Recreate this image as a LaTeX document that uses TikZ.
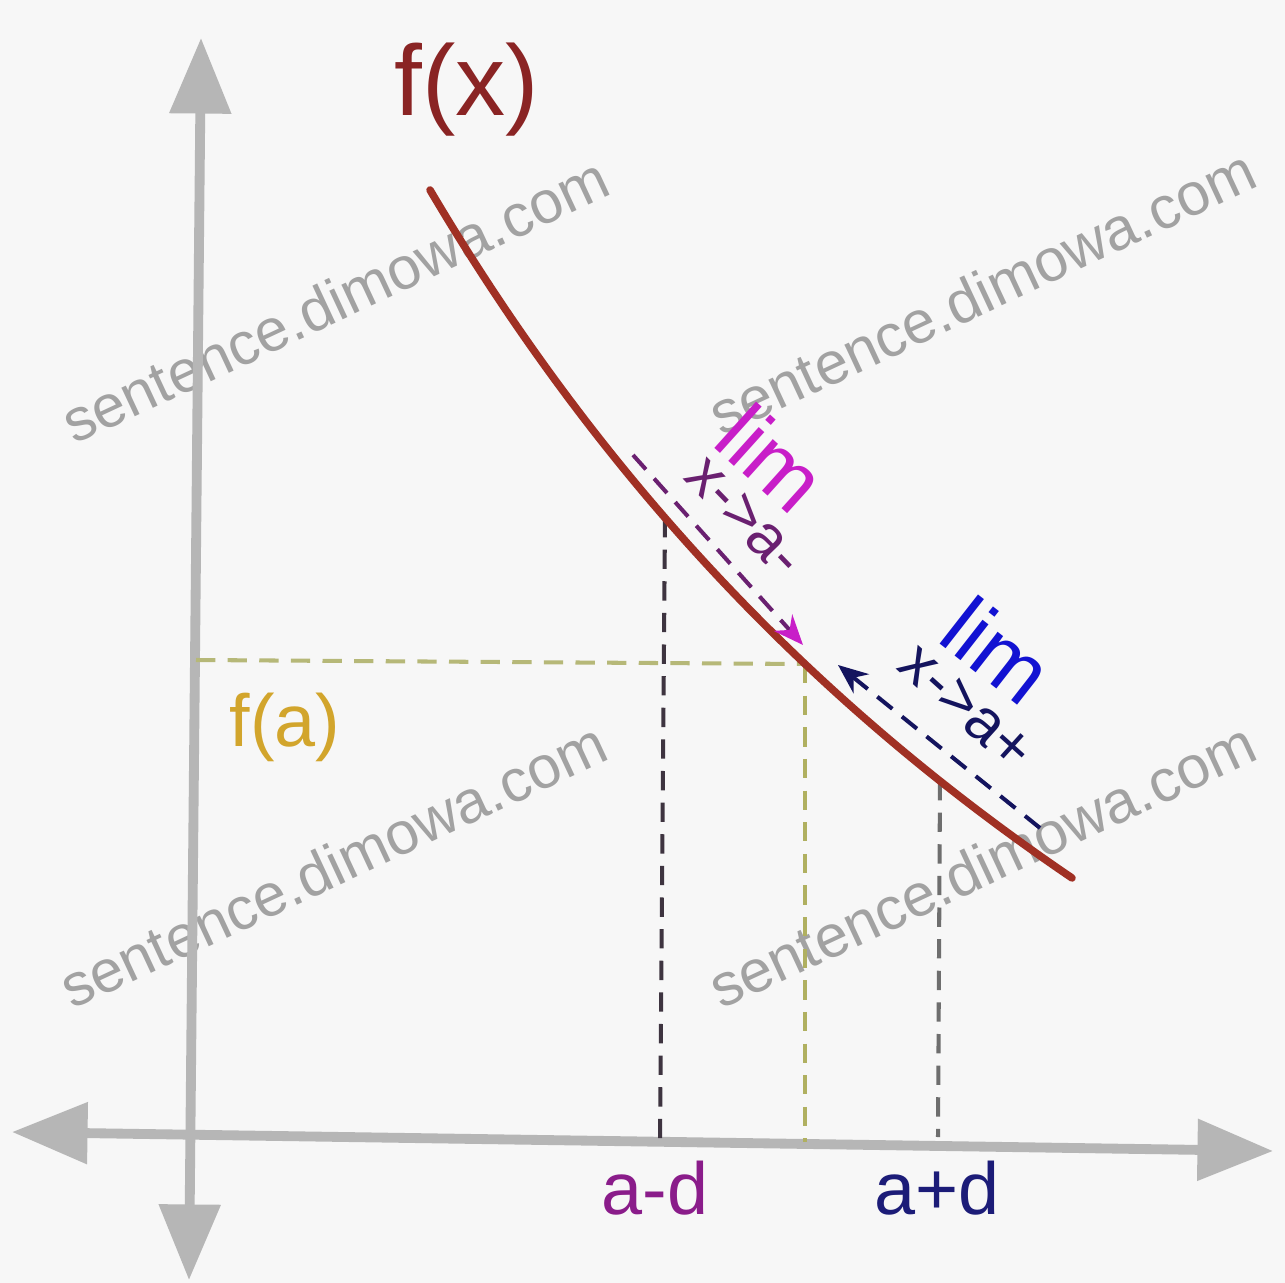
\documentclass[tikz,border=0pt]{standalone}
\usepackage{fontspec}
\setmainfont{Liberation Sans}
\usetikzlibrary{arrows.meta}
\definecolor{bgc}{HTML}{F7F7F7}
\definecolor{axisc}{HTML}{B6B6B6}
\definecolor{curvec}{HTML}{A03024}
\definecolor{fxc}{HTML}{8A2424}
\definecolor{fac}{HTML}{D2A52C}
\definecolor{faline}{HTML}{B6B878}
\definecolor{aline}{HTML}{B0B060}
\definecolor{amline}{HTML}{3E3440}
\definecolor{apline}{HTML}{6E6E6E}
\definecolor{magc}{HTML}{C81EC8}
\definecolor{magd}{HTML}{6A2070}
\definecolor{bluec}{HTML}{1212D2}
\definecolor{navyc}{HTML}{14145E}
\definecolor{amc}{HTML}{8A1C8A}
\definecolor{apc}{HTML}{1C1C78}
\definecolor{wmc}{HTML}{A2A2A2}
\tikzset{
  axisline/.style={draw=axisc, line width=5.6pt,
    {Triangle[length=43pt,width=34pt]}-{Triangle[length=43pt,width=34pt]}},
  curveline/.style={draw=curvec, line width=4.3pt, line cap=round},
  dashline/.style={line width=2.3pt, dash pattern=on 11pt off 7pt},
  lbl/.style={inner sep=0pt, anchor=center},
  wm/.style={inner sep=0pt, anchor=center, text=wmc, rotate=25,
    font=\fontsize{34}{36}\selectfont},
}
\begin{document}
\begin{tikzpicture}[x=0.02cm,y=-0.02cm]
\fill[bgc] (0,0) rectangle (1285,1283);
\useasboundingbox (0,0) rectangle (1285,1283);

% watermarks
\node[wm] (wm1) at (335,300) {sentence.dimowa.com};
\node[wm] (wm2) at (982,292) {sentence.dimowa.com};
\node[wm] (wm3) at (333,865) {sentence.dimowa.com};
\node[wm] (wm4) at (982,865) {sentence.dimowa.com};

% axes
\coordinate (ytop) at (201,38);
\coordinate (ybot) at (189,1280);
\coordinate (xleft) at (12,1132);
\coordinate (xright) at (1273,1151);
\draw[axisline] (ybot) -- (ytop);
\draw[axisline] (xleft) -- (xright);

% key points on the curve y = 2070.3 - 2092025/(x+682.6)
\coordinate (P) at (805,664);
\coordinate (Pm) at (665,518);
\coordinate (Pp) at (940,781);
\coordinate (fay) at (196,660);
\coordinate (ax) at (805,1142);
\coordinate (amx) at (660,1140);
\coordinate (apx) at (938,1137);

% dashed guides
\draw[dashline, draw=faline] (fay) -- (P);
\draw[dashline, draw=aline] (P) -- (ax);
\draw[dashline, draw=amline] (Pm) -- (amx);
\draw[dashline, draw=apline] (Pp) -- (apx);

% curve
\draw[curveline] plot[domain=430:1072, samples=80, smooth]
  (\x, {2070.3 - 2092.025/((\x+682.6)/1000)});

% limit arrows
\coordinate (mstart) at (633,455);
\coordinate (mend) at (803,645);
\draw[dashline, draw=magd, -{Stealth[length=17pt,width=14pt,color=magc]}] (mstart) -- (mend);
\coordinate (bstart) at (1040,828);
\coordinate (bend) at (838,665);
\draw[dashline, draw=navyc, -{Stealth[length=17pt,width=14pt,color=navyc]}] (bstart) -- (bend);

% labels
\node[lbl, text=fxc, font=\fontsize{57}{60}\selectfont] (fx) at (467,90) {f(x)};
\node[lbl, text=fac, font=\fontsize{42}{44}\selectfont] (fa) at (285,727) {f(a)};
\node[lbl, text=amc, font=\fontsize{42}{44}\selectfont] (amd) at (655,1188) {a-d};
\node[lbl, text=apc, font=\fontsize{42}{44}\selectfont] (apd) at (937,1188) {a+d};
\node[lbl, text=magc, rotate=-42, font=\fontsize{49}{50}\selectfont] (liml) at (772,458) {lim};
\node[lbl, text=magd, rotate=-46, font=\fontsize{35}{36}\selectfont] (limlx) at (744,517) {x->a-};
\node[lbl, text=bluec, rotate=-38, font=\fontsize{49}{50}\selectfont] (limr) at (998,650) {lim};
\node[lbl, text=navyc, rotate=-42, font=\fontsize{35}{36}\selectfont] (limrx) at (966,708) {x->a+};
\end{tikzpicture}
\end{document}
